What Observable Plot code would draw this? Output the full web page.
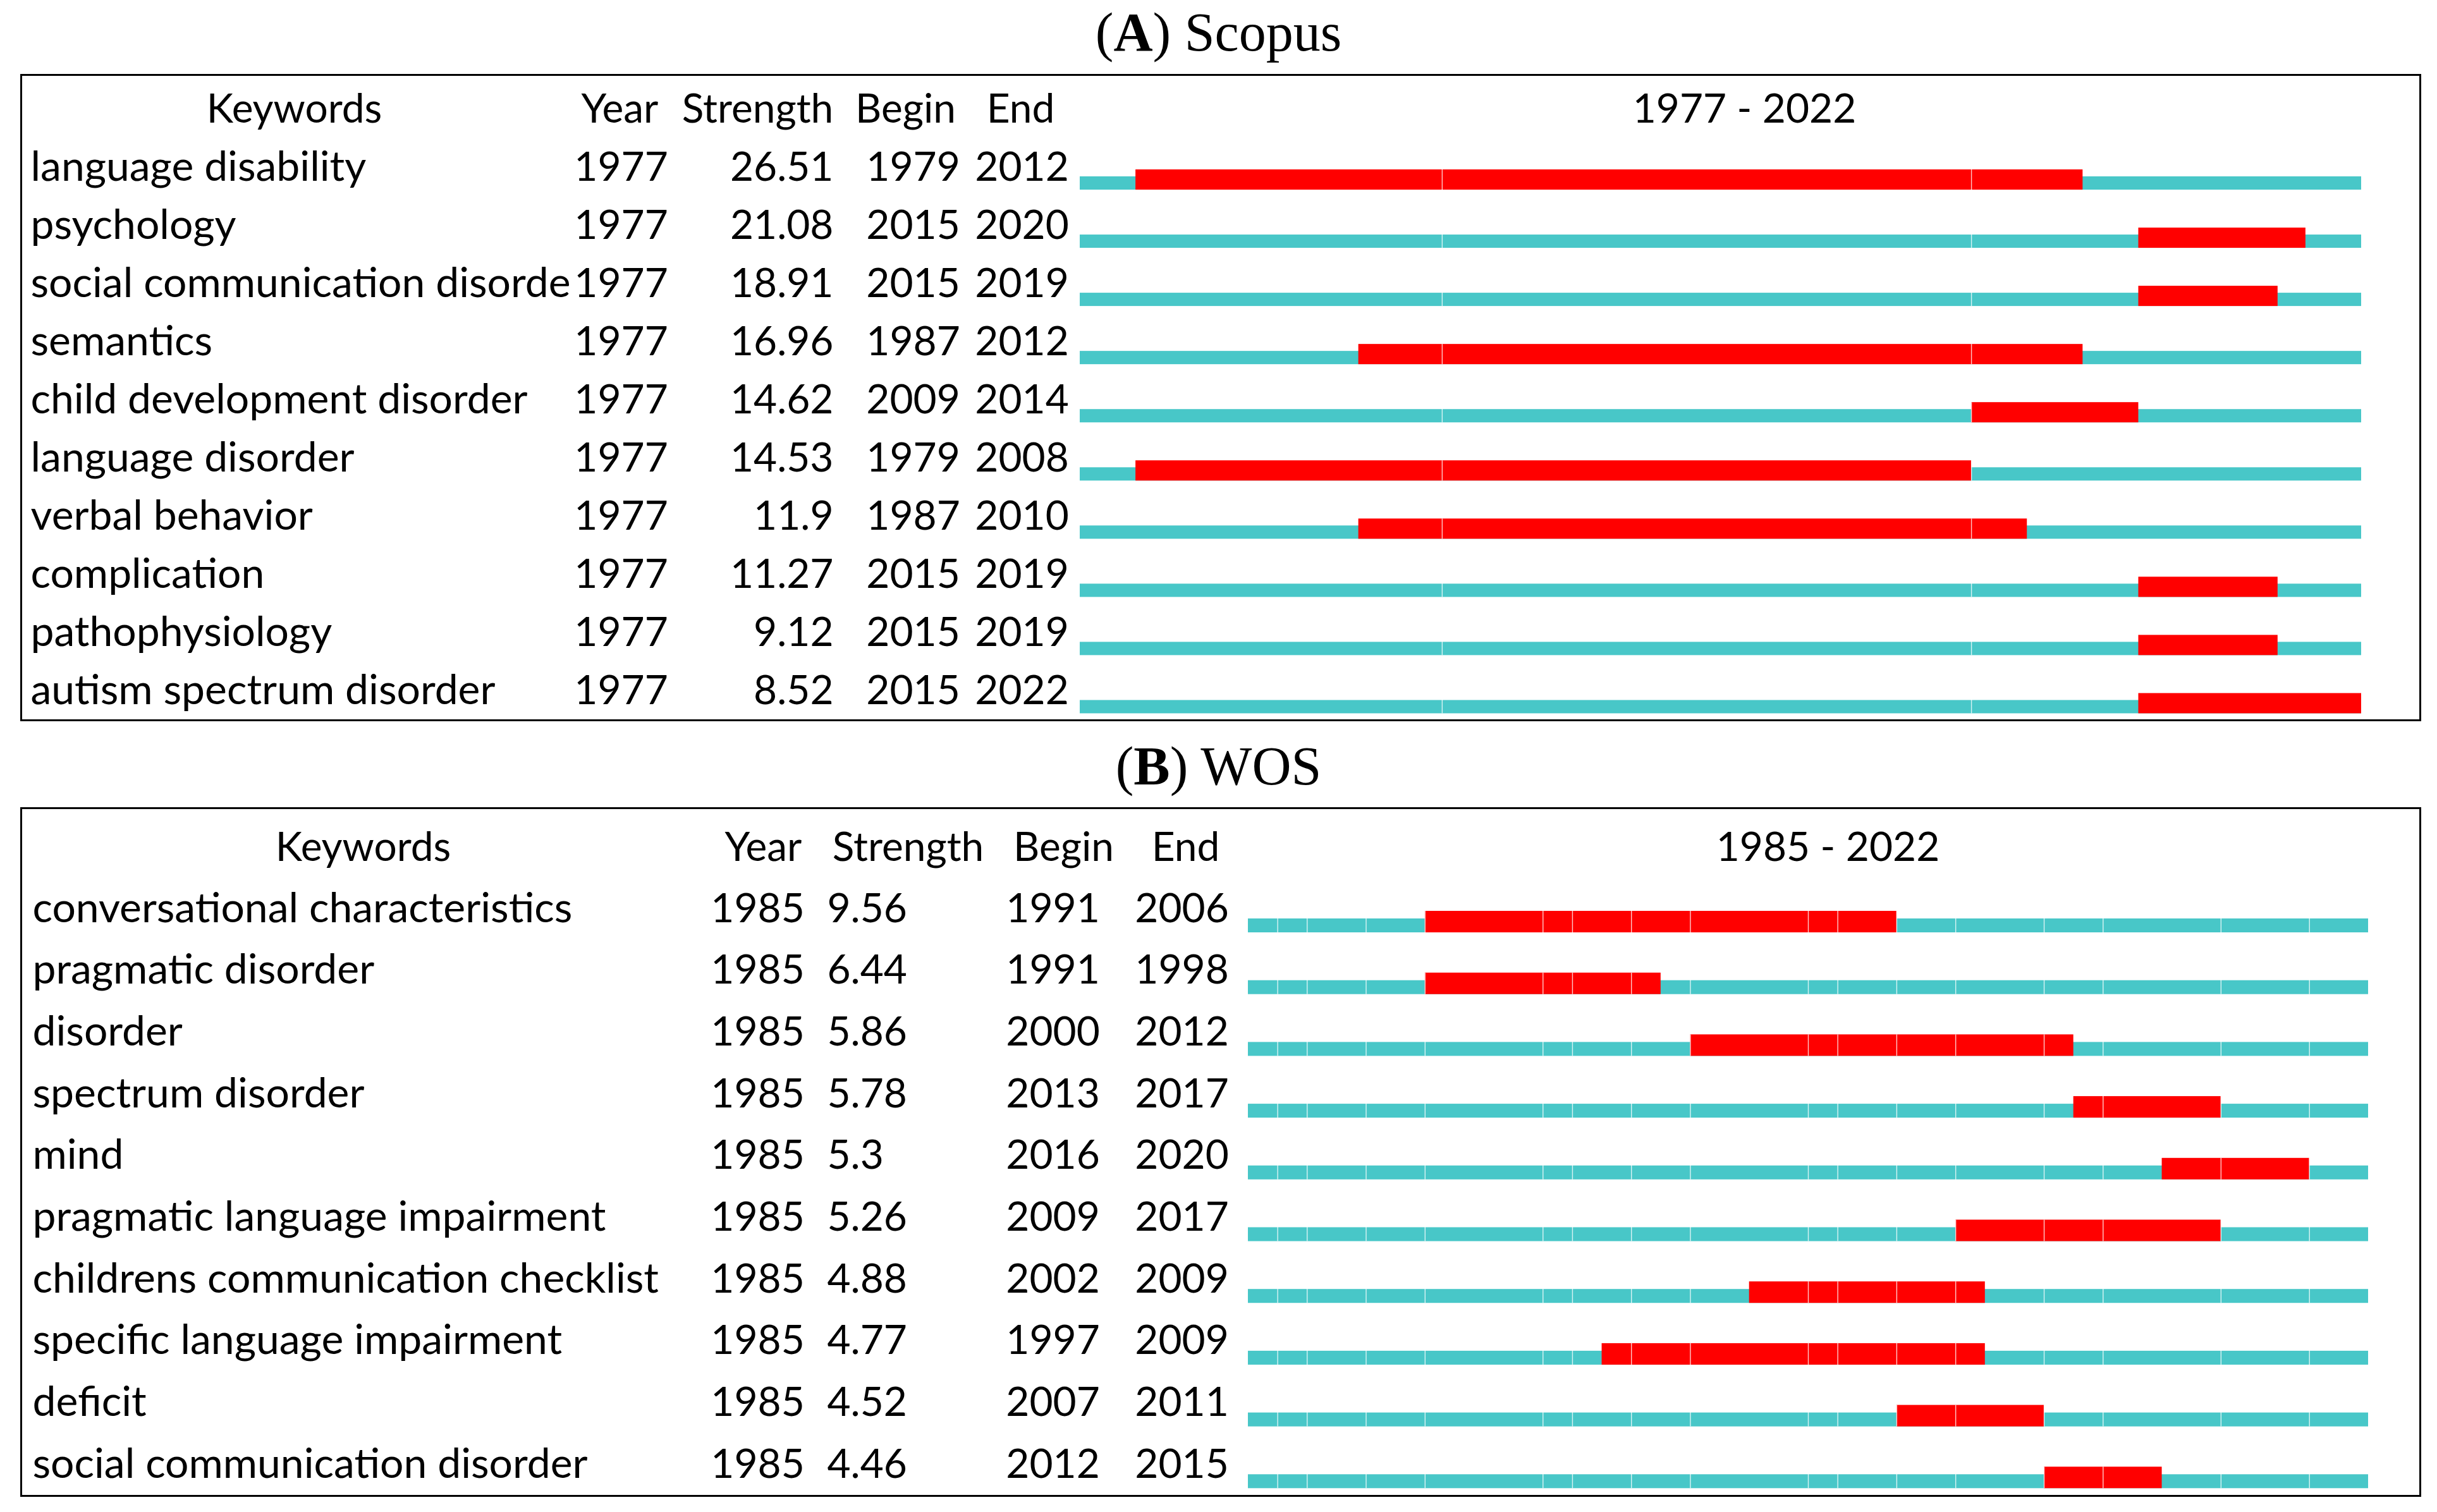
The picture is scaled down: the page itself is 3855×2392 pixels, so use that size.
<!DOCTYPE html>
<html>
<head>
<meta charset="utf-8">
<script src="https://cdn.jsdelivr.net/npm/d3@7"></script>
<script src="https://cdn.jsdelivr.net/npm/@observablehq/plot@0.6"></script>
<style>
  html, body { margin: 0; padding: 0; background: #fff; }
  body { width: 3855px; height: 2392px; position: relative; overflow: hidden; }
  .title { position: absolute; left: 0; width: 3855px; text-align: center;
           font-family: "Liberation Serif", "DejaVu Serif", serif; font-size: 86px; line-height: 1; color: #000; }
  .box { position: absolute; left: 32px; width: 3798px; border: 3px solid #000; box-sizing: border-box; background: #fff; }
  .box svg { display: block; }
</style>
</head>
<body>
<div class="title" style="top:8px">(<b>A</b>) Scopus</div>
<div class="box" id="boxA" style="top:117px;height:1024px"></div>
<div class="title" style="top:1169px">(<b>B</b>) WOS</div>
<div class="box" id="boxB" style="top:1277px;height:1091px"></div>
<script>
// ---------- Data: (A) Scopus ----------
const scopusKeywords = ["language disability", "psychology", "social communication disorder", "semantics",
  "child development disorder", "language disorder", "verbal behavior", "complication", "pathophysiology",
  "autism spectrum disorder"];
const scopusYear = [1977, 1977, 1977, 1977, 1977, 1977, 1977, 1977, 1977, 1977];
const scopusStrength = ["26.51", "21.08", "18.91", "16.96", "14.62", "14.53", "11.9", "11.27", "9.12", "8.52"];
const scopusBegin = [1979, 2015, 2015, 1987, 2009, 1979, 1987, 2015, 2015, 2015];
const scopusEnd = [2012, 2020, 2019, 2012, 2014, 2008, 2010, 2019, 2019, 2022];
const scopusSpan = [1977, 2022];
const scopusSeams = [1990, 2009];   // faint year-cell joins visible in the bars

// ---------- Data: (B) WOS ----------
const wosKeywords = ["conversational characteristics", "pragmatic disorder", "disorder", "spectrum disorder", "mind",
  "pragmatic language impairment", "childrens communication checklist", "specific language impairment", "deficit",
  "social communication disorder"];
const wosYear = [1985, 1985, 1985, 1985, 1985, 1985, 1985, 1985, 1985, 1985];
const wosStrength = ["9.56", "6.44", "5.86", "5.78", "5.3", "5.26", "4.88", "4.77", "4.52", "4.46"];
const wosBegin = [1991, 1991, 2000, 2013, 2016, 2009, 2002, 1997, 2007, 2012];
const wosEnd = [2006, 1998, 2012, 2017, 2020, 2017, 2009, 2009, 2011, 2015];
const wosSpan = [1985, 2022];
const wosSeams = [1986, 1987, 1989, 1991, 1995, 1996, 1998, 2000, 2004, 2005, 2007, 2009, 2012, 2014, 2018, 2021];

const headers = ["Keywords", "Year", "Strength", "Begin", "End"];

const TEAL = "#48C7C8";
const RED = "#FF0000";
const FONT = "Lato";
const FS = 64;      // numbers and headers
const FS_KW = 66;   // keyword column

function buildPanel(cfg) {
  const rows = cfg.keywords.map((k, i) => ({
    keyword: k, year: cfg.year[i], strength: cfg.strength[i], begin: cfg.begin[i], end: cfg.end[i]
  }));
  const seams = rows.flatMap(r => cfg.seams.map(s => ({keyword: r.keyword, at: s})));
  const [first, last] = cfg.span;
  const step = (cfg.height - cfg.mt - cfg.mb) / rows.length;
  const txt = {fontFamily: FONT, fontSize: FS, fill: "#000", lineAnchor: "bottom"};
  const rowText = (field, dx, anchor, size = FS) => Plot.text(rows, {
    ...txt, fontSize: size, y: "keyword", text: d => String(d[field]), frameAnchor: "left", dx, dy: step / 2 - cfg.gap,
    textAnchor: anchor
  });
  const head = (label, dx, anchor = "middle") => Plot.text([label], {
    ...txt, text: d => d, frameAnchor: "top-left", dx, dy: cfg.headBase - cfg.mt, textAnchor: anchor
  });
  const svg = Plot.plot({
    width: cfg.width,
    height: cfg.height,
    marginLeft: cfg.ml,
    marginRight: cfg.mr,
    marginTop: cfg.mt,
    marginBottom: cfg.mb,
    x: {domain: [first, last + 1], axis: null},
    y: {domain: cfg.keywords, axis: null, padding: 0, round: false},
    style: {background: "#fff", overflow: "visible"},
    marks: [
      Plot.barX(rows, {y: "keyword", x1: () => first, x2: () => last + 1, fill: TEAL,
        insetTop: step - cfg.tealH, insetBottom: 0}),
      Plot.barX(rows, {y: "keyword", x1: "begin", x2: d => d.end + 1, fill: RED,
        insetTop: step - cfg.redH, insetBottom: 0}),
      Plot.tickX(seams, {x: "at", y: "keyword", stroke: "#fff", strokeWidth: 1.4, strokeOpacity: 0.8,
        insetTop: step - cfg.redH, insetBottom: 0}),
      rowText("keyword", cfg.cols.kw, "start", FS_KW),
      rowText("year", cfg.cols.year, "middle"),
      rowText("strength", cfg.cols.strength, cfg.cols.strengthAnchor),
      rowText("begin", cfg.cols.begin, "middle"),
      rowText("end", cfg.cols.end, "middle"),
      head(headers[0], cfg.heads.kw),
      head(headers[1], cfg.heads.year),
      head(headers[2], cfg.heads.strength),
      head(headers[3], cfg.heads.begin),
      head(headers[4], cfg.heads.end),
      head(`${first} - ${last}`, cfg.heads.range)
    ]
  });
  document.getElementById(cfg.id).appendChild(svg);
  if (cfg.cellW) {
    // the keyword cell is cut at the Year column, as in the original table
    const g = Array.from(svg.querySelectorAll("g")).find(el => {
      const t = el.querySelector(":scope > text");
      return t && t.textContent === cfg.keywords[0];
    });
    if (g) {
      g.querySelectorAll("text").forEach(t => {
        let s = t.textContent;
        while (s.length > 1 && t.getComputedTextLength() > cfg.cellW) {
          s = s.slice(0, -1);
          t.textContent = s;
        }
      });
    }
  }
}

buildPanel({
  id: "boxA",
  keywords: scopusKeywords, year: scopusYear, strength: scopusStrength, begin: scopusBegin, end: scopusEnd,
  span: scopusSpan, seams: scopusSeams,
  width: 3792, height: 1018, ml: 1673, mr: 92, mt: 87.95, mb: 9.55,
  gap: 15, tealH: 21, redH: 32, headBase: 73, cellW: 862,
  cols: {kw: 13 - 1673, year: 947 - 1673, strength: 1283 - 1673, strengthAnchor: "end", begin: 1409 - 1673, end: 1581 - 1673},
  heads: {kw: 430 - 1673, year: 945 - 1673, strength: 1163 - 1673, begin: 1397 - 1673, end: 1579 - 1673, range: 2724 - 1673}
});

buildPanel({
  id: "boxB",
  keywords: wosKeywords, year: wosYear, strength: wosStrength, begin: wosBegin, end: wosEnd,
  span: wosSpan, seams: wosSeams,
  width: 3792, height: 1085, ml: 1939, mr: 81, mt: 97.3, mb: 10.7,
  gap: 17, tealH: 22, redH: 34, headBase: 81, cellW: 0,
  cols: {kw: 16 - 1939, year: 1163 - 1939, strength: 1273 - 1939, strengthAnchor: "start", begin: 1630 - 1939, end: 1834 - 1939},
  heads: {kw: 539 - 1939, year: 1172 - 1939, strength: 1401 - 1939, begin: 1647 - 1939, end: 1840 - 1939, range: 2856 - 1939}
});
</script>
</body>
</html>
